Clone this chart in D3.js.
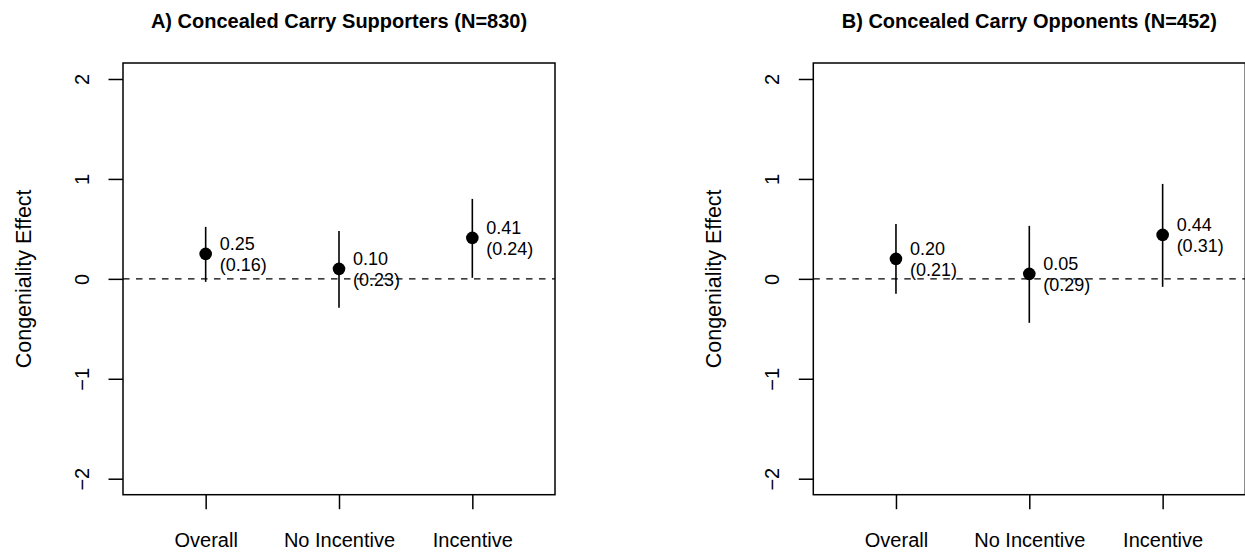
<!DOCTYPE html>
<html>
<head>
<meta charset="utf-8">
<script src="https://cdn.jsdelivr.net/npm/d3@7"></script>
<style>
  body { margin: 0; background: #fff; }
  svg text { font-family: "Liberation Sans", Arial, Helvetica, sans-serif; fill: #000; }
</style>
</head>
<body>
<div id="chart"></div>
<script>
const width = 1245, height = 553;

// values
const categories = ["Overall", "No Incentive", "Incentive"];
const yTicks = [-2, -1, 0, 1, 2];

const supTitle = "A) Concealed Carry Supporters (N=830)";
const supEst = [0.25, 0.10, 0.41];
const supSE  = [0.16, 0.23, 0.24];
const supLo  = [-0.03, -0.29, 0.01];
const supHi  = [0.52, 0.48, 0.80];

const oppTitle = "B) Concealed Carry Opponents (N=452)";
const oppEst = [0.20, 0.05, 0.44];
const oppSE  = [0.21, 0.29, 0.31];
const oppLo  = [-0.15, -0.44, -0.08];
const oppHi  = [0.55, 0.53, 0.95];

const panels = [
  { title: supTitle, est: supEst, se: supSE, lo: supLo, hi: supHi, left: 123 },
  { title: oppTitle, est: oppEst, se: oppSE, lo: oppLo, hi: oppHi, left: 813.3 }
];

const plotTop = 63, plotW = 432, plotH = 431.7;
const tickLen = 14.5;

const svg = d3.select("#chart").append("svg")
  .attr("width", width)
  .attr("height", height)
  .attr("viewBox", `0 0 ${width} ${height}`);

// same scales for both panels (R xlim 0.5..3.5, ylim -2..2 plus 4%)
const x = d3.scaleLinear().domain([0.38, 3.62]).range([0, plotW]);
const y = d3.scaleLinear().domain([-2.16, 2.16]).range([plotH, 0]);

panels.forEach(p => {
  const g = svg.append("g").attr("transform", `translate(${p.left},${plotTop})`);

  // zero reference line
  g.append("line")
    .attr("x1", 0).attr("x2", plotW)
    .attr("y1", y(0)).attr("y2", y(0))
    .attr("stroke", "#000")
    .attr("stroke-width", 1.3)
    .attr("stroke-dasharray", "6.5,6.5");

  // confidence intervals
  g.selectAll("line.ci")
    .data(categories)
    .join("line")
    .attr("class", "ci")
    .attr("x1", (d, i) => x(i + 1)).attr("x2", (d, i) => x(i + 1))
    .attr("y1", (d, i) => y(p.lo[i])).attr("y2", (d, i) => y(p.hi[i]))
    .attr("stroke", "#000")
    .attr("stroke-width", 1.6);

  // point estimates
  g.selectAll("circle")
    .data(categories)
    .join("circle")
    .attr("cx", (d, i) => x(i + 1))
    .attr("cy", (d, i) => y(p.est[i]))
    .attr("r", 6.3)
    .attr("fill", "#000");

  // estimate and (se) labels
  const lab = g.selectAll("text.lab")
    .data(categories)
    .join("text")
    .attr("class", "lab")
    .attr("x", (d, i) => x(i + 1) + 14)
    .attr("y", (d, i) => y(p.est[i]))
    .style("font-size", "18px");
  lab.append("tspan")
    .attr("x", (d, i) => x(i + 1) + 14)
    .attr("dy", -4.3)
    .text((d, i) => p.est[i].toFixed(2));
  lab.append("tspan")
    .attr("x", (d, i) => x(i + 1) + 14)
    .attr("dy", 21.6)
    .text((d, i) => `(${p.se[i].toFixed(2)})`);

  // box
  g.append("rect")
    .attr("width", plotW).attr("height", plotH)
    .attr("fill", "none")
    .attr("stroke", "#000")
    .attr("stroke-width", 1.5);

  // x axis
  const xa = g.append("g")
    .attr("transform", `translate(0,${plotH})`)
    .call(d3.axisBottom(x).tickValues([1, 2, 3])
      .tickFormat(d => categories[d - 1])
      .tickSize(tickLen).tickPadding(23.3));
  xa.select(".domain").remove();
  xa.selectAll("line").attr("stroke-width", 1.5);
  xa.selectAll("text").style("font-size", "20px").attr("font-family", null);

  // y axis, labels parallel to the axis like R
  const ya = g.append("g")
    .call(d3.axisLeft(y).tickValues(yTicks).tickSize(tickLen)
      .tickFormat(d => d < 0 ? "\u2212" + Math.abs(d) : String(d)));
  ya.select(".domain").remove();
  ya.selectAll("line").attr("stroke-width", 1.5);
  ya.selectAll("text")
    .attr("x", null).attr("dy", null)
    .attr("text-anchor", "middle")
    .attr("transform", "translate(-34,0) rotate(-90)")
    .attr("font-family", null)
    .style("font-size", "20px");

  // y axis title
  g.append("text")
    .attr("transform", `translate(-92,${plotH / 2}) rotate(-90)`)
    .attr("text-anchor", "middle")
    .style("font-size", "21.5px")
    .text("Congeniality Effect");

  // panel title
  svg.append("text")
    .attr("x", p.left + plotW / 2)
    .attr("y", 27.6)
    .attr("text-anchor", "middle")
    .style("font-size", "20px")
    .style("font-weight", "bold")
    .text(p.title);
});
</script>
</body>
</html>
